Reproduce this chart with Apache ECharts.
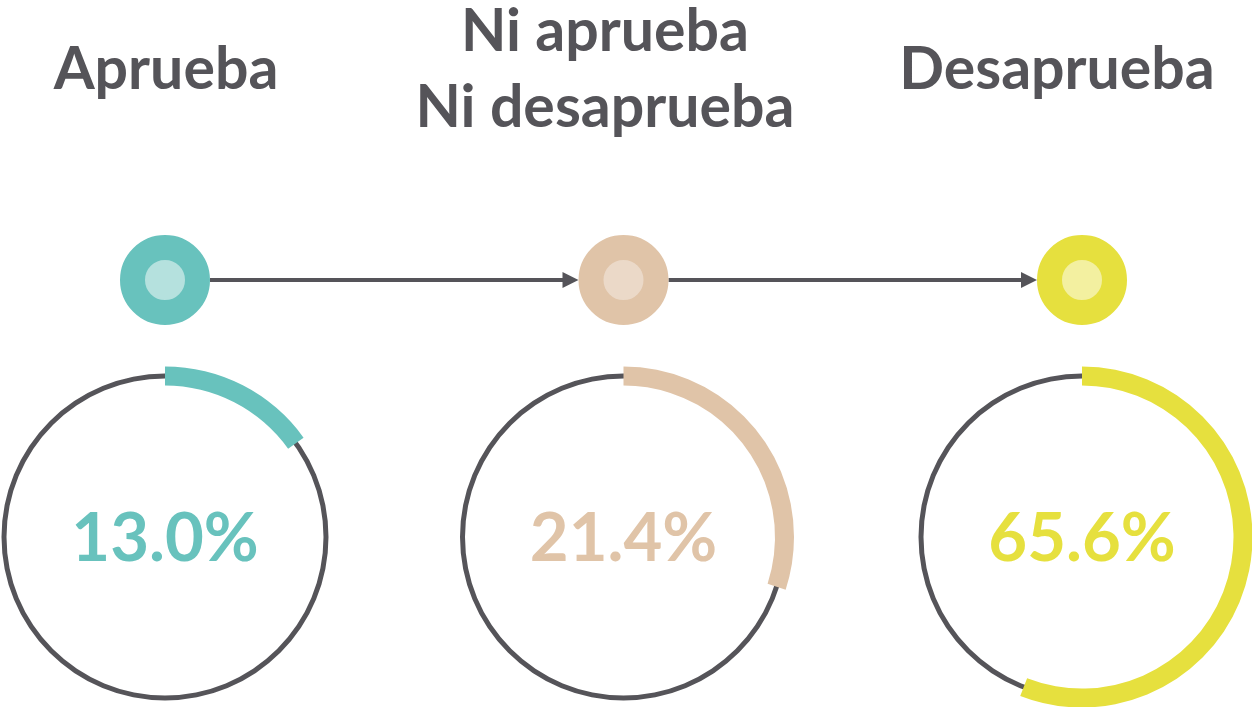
<!DOCTYPE html>
<html lang="es">
<head>
  <meta charset="UTF-8">
  <title>Aprueba / Desaprueba</title>
  <script src="https://cdn.jsdelivr.net/npm/echarts@6/dist/echarts.min.js"></script>
  <style>
    html, body { margin: 0; padding: 0; background: #fff; }
    #chart { width: 1252px; height: 707px; }
  </style>
</head>
<body>
<div id="chart"></div>

<script>
  // datos
  const categories = ['Aprueba', 'Ni aprueba\nNi desaprueba', 'Desaprueba']
  const percentLabels = [13.0, 21.4, 65.6]
  // parte del anillo cubierta por el arco de color (en % de la vuelta)
  const arcShare = [15.1, 30.0, 55.9]
  const mainColors = ['#68c2bd', '#e0c4a8', '#e6e03e']
  const innerColors = ['#b5e1de', '#ebd9c8', '#f3f0a0']

  const dark = '#555459'
  const font = 'Lato'
  const W = 1252
  const gridLeft = 165, gridRight = 170
  const step = (W - gridLeft - gridRight) / 2   // px entre columnas
  const dotR = 45
  const titleX = [166, 605, 1057]

  const colX = i => gridLeft + i * step

  const titles = categories.map((c, i) => ({
    text: c,
    left: titleX[i],
    top: 70,
    padding: 0,
    textAlign: 'center',
    textVerticalAlign: 'middle',
    textStyle: { fontFamily: font, fontWeight: 'bold', fontSize: 59, color: dark, lineHeight: 76 }
  }))

  const series = []

  // flechas entre los puntos
  const arrows = []
  for (let i = 0; i < categories.length - 1; i++) {
    arrows.push({ coords: [[i + dotR / step, 1], [i + 1 - (dotR + 8) / step, 1]] })
  }
  series.push({
    type: 'lines',
    coordinateSystem: 'cartesian2d',
    symbol: ['none', 'triangle'],
    symbolSize: 16,
    lineStyle: { color: dark, width: 4, opacity: 1 },
    data: arrows,
    silent: true,
    z: 1
  })

  // puntos
  series.push({
    type: 'scatter',
    symbolSize: 65,
    data: categories.map((c, i) => ({
      value: [i, 1],
      itemStyle: { color: innerColors[i], borderColor: mainColors[i], borderWidth: 25, opacity: 1 }
    })),
    silent: true,
    z: 3
  })

  // anillos
  categories.forEach((c, i) => {
    series.push({
      type: 'gauge',
      center: [colX(i), 537],
      radius: 163.5,
      startAngle: 90, endAngle: -270,
      min: 0, max: 100,
      axisLine: { lineStyle: { width: 5, color: [[1, dark]] } },
      pointer: { show: false }, anchor: { show: false },
      axisTick: { show: false }, splitLine: { show: false }, axisLabel: { show: false },
      title: { show: false }, detail: { show: false },
      data: [{ value: 0 }],
      silent: true
    })
    series.push({
      type: 'gauge',
      center: [colX(i), 537],
      radius: 170.5,
      startAngle: 90, endAngle: -270,
      min: 0, max: 100,
      axisLine: { show: false },
      progress: { show: true, width: 19, itemStyle: { color: mainColors[i] } },
      pointer: { show: false }, anchor: { show: false },
      axisTick: { show: false }, splitLine: { show: false }, axisLabel: { show: false },
      title: { show: false },
      detail: {
        formatter: () => percentLabels[i].toFixed(1) + '%',
        offsetCenter: [0, 2],
        fontFamily: font, fontWeight: 'bold', fontSize: 67, color: mainColors[i]
      },
      data: [{ value: arcShare[i] }],
      silent: true
    })
  })

  const chart = echarts.init(document.getElementById('chart'))
  chart.setOption({
    animation: false,
    backgroundColor: '#fff',
    title: titles,
    grid: { left: gridLeft, right: gridRight, top: 230, height: 100 },
    xAxis: { type: 'value', min: 0, max: 2, show: false },
    yAxis: { type: 'value', min: 0, max: 2, show: false },
    series: series
  })
</script>
</body>
</html>
